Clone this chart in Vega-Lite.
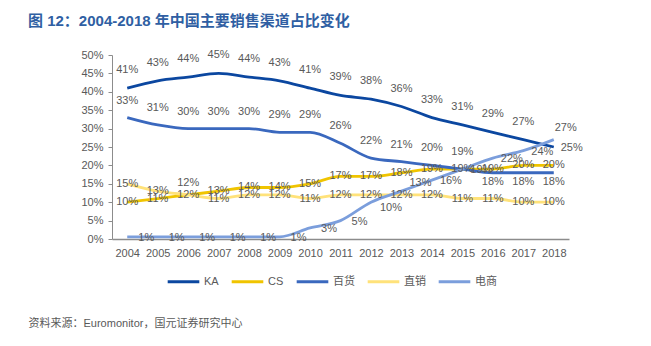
{
  "$schema": "https://vega.github.io/schema/vega-lite/v6.json",
  "autosize": "none",
  "width": 457,
  "height": 184,
  "padding": {"left": 112, "top": 55, "right": 82, "bottom": 107},
  "background": "white",
  "config": {
    "view": {"stroke": null},
    "font": "Liberation Sans, Noto Sans CJK SC",
    "text": {"font": "Liberation Sans, Noto Sans CJK SC"}
  },
  "title": {
    "text": "图 12：2004-2018 年中国主要销售渠道占比变化",
    "anchor": "start",
    "frame": "group",
    "dx": -84,
    "fontSize": 15,
    "fontWeight": "bold",
    "color": "#2F5FA3",
    "font": "Liberation Sans, Noto Sans CJK SC",
    "offset": 20
  },
  "data": {
    "values": [
      {"year": "2004", "series": "KA", "value": 0.41},
      {"year": "2005", "series": "KA", "value": 0.43},
      {"year": "2006", "series": "KA", "value": 0.44},
      {"year": "2007", "series": "KA", "value": 0.45},
      {"year": "2008", "series": "KA", "value": 0.44},
      {"year": "2009", "series": "KA", "value": 0.43},
      {"year": "2010", "series": "KA", "value": 0.41},
      {"year": "2011", "series": "KA", "value": 0.39},
      {"year": "2012", "series": "KA", "value": 0.38},
      {"year": "2013", "series": "KA", "value": 0.36},
      {"year": "2014", "series": "KA", "value": 0.33},
      {"year": "2015", "series": "KA", "value": 0.31},
      {"year": "2016", "series": "KA", "value": 0.29},
      {"year": "2017", "series": "KA", "value": 0.27},
      {"year": "2018", "series": "KA", "value": 0.25},
      {"year": "2004", "series": "CS", "value": 0.10},
      {"year": "2005", "series": "CS", "value": 0.11},
      {"year": "2006", "series": "CS", "value": 0.12},
      {"year": "2007", "series": "CS", "value": 0.13},
      {"year": "2008", "series": "CS", "value": 0.14},
      {"year": "2009", "series": "CS", "value": 0.14},
      {"year": "2010", "series": "CS", "value": 0.15},
      {"year": "2011", "series": "CS", "value": 0.17},
      {"year": "2012", "series": "CS", "value": 0.17},
      {"year": "2013", "series": "CS", "value": 0.18},
      {"year": "2014", "series": "CS", "value": 0.19},
      {"year": "2015", "series": "CS", "value": 0.19},
      {"year": "2016", "series": "CS", "value": 0.19},
      {"year": "2017", "series": "CS", "value": 0.20},
      {"year": "2018", "series": "CS", "value": 0.20},
      {"year": "2004", "series": "百货", "value": 0.33},
      {"year": "2005", "series": "百货", "value": 0.31},
      {"year": "2006", "series": "百货", "value": 0.30},
      {"year": "2007", "series": "百货", "value": 0.30},
      {"year": "2008", "series": "百货", "value": 0.30},
      {"year": "2009", "series": "百货", "value": 0.29},
      {"year": "2010", "series": "百货", "value": 0.29},
      {"year": "2011", "series": "百货", "value": 0.26},
      {"year": "2012", "series": "百货", "value": 0.22},
      {"year": "2013", "series": "百货", "value": 0.21},
      {"year": "2014", "series": "百货", "value": 0.20},
      {"year": "2015", "series": "百货", "value": 0.19},
      {"year": "2016", "series": "百货", "value": 0.18},
      {"year": "2017", "series": "百货", "value": 0.18},
      {"year": "2018", "series": "百货", "value": 0.18},
      {"year": "2004", "series": "直销", "value": 0.15},
      {"year": "2005", "series": "直销", "value": 0.13},
      {"year": "2006", "series": "直销", "value": 0.12},
      {"year": "2007", "series": "直销", "value": 0.11},
      {"year": "2008", "series": "直销", "value": 0.12},
      {"year": "2009", "series": "直销", "value": 0.12},
      {"year": "2010", "series": "直销", "value": 0.11},
      {"year": "2011", "series": "直销", "value": 0.12},
      {"year": "2012", "series": "直销", "value": 0.12},
      {"year": "2013", "series": "直销", "value": 0.12},
      {"year": "2014", "series": "直销", "value": 0.12},
      {"year": "2015", "series": "直销", "value": 0.11},
      {"year": "2016", "series": "直销", "value": 0.11},
      {"year": "2017", "series": "直销", "value": 0.10},
      {"year": "2018", "series": "直销", "value": 0.10},
      {"year": "2004", "series": "电商", "value": 0.006},
      {"year": "2005", "series": "电商", "value": 0.006},
      {"year": "2006", "series": "电商", "value": 0.006},
      {"year": "2007", "series": "电商", "value": 0.006},
      {"year": "2008", "series": "电商", "value": 0.006},
      {"year": "2009", "series": "电商", "value": 0.006},
      {"year": "2010", "series": "电商", "value": 0.03},
      {"year": "2011", "series": "电商", "value": 0.05},
      {"year": "2012", "series": "电商", "value": 0.10},
      {"year": "2013", "series": "电商", "value": 0.13},
      {"year": "2014", "series": "电商", "value": 0.16},
      {"year": "2015", "series": "电商", "value": 0.19},
      {"year": "2016", "series": "电商", "value": 0.22},
      {"year": "2017", "series": "电商", "value": 0.24},
      {"year": "2018", "series": "电商", "value": 0.27}
    ]
  },
  "encoding": {
    "x": {
      "field": "year",
      "type": "ordinal",
      "scale": {"type": "point", "padding": 0.5},
      "axis": {
        "title": "资料来源：Euromonitor，国元证券研究中心",
        "titleX": -84,
        "titleY": 84,
        "titleAnchor": "start",
        "titleAlign": "left",
        "titleBaseline": "middle",
        "titleFontWeight": "normal",
        "titleFontSize": 11,
        "titleColor": "#595959",
        "titleFont": "Liberation Sans, Noto Sans CJK SC",
        "labelAngle": 0,
        "labelColor": "#595959",
        "labelFontSize": 11,
        "labelPadding": 8,
        "ticks": false,
        "domainColor": "#8c8c8c",
        "domainWidth": 1.5
      }
    },
    "y": {
      "field": "value",
      "type": "quantitative",
      "scale": {"domain": [0, 0.5], "nice": false},
      "axis": {
        "title": null,
        "values": [0, 0.05, 0.1, 0.15, 0.2, 0.25, 0.3, 0.35, 0.4, 0.45, 0.5],
        "format": ".0%",
        "grid": false,
        "labelColor": "#595959",
        "labelFontSize": 11,
        "labelPadding": 5,
        "domainColor": "#8c8c8c",
        "tickColor": "#8c8c8c",
        "tickSize": 4
      }
    }
  },
  "layer": [
    {
      "mark": {"type": "line", "interpolate": "monotone", "strokeWidth": 2.8},
      "encoding": {
        "color": {
          "field": "series",
          "type": "nominal",
          "scale": {
            "domain": ["KA", "CS", "百货", "直销", "电商"],
            "range": ["#0B47A0", "#F0C400", "#3A68BE", "#FFE27A", "#7B9EDC"]
          },
          "legend": {
            "title": null,
            "orient": "none",
            "direction": "horizontal",
            "legendX": 54,
            "legendY": 209,
            "symbolType": "stroke",
            "symbolSize": 1000,
            "symbolStrokeWidth": 3,
            "labelFontSize": 11,
            "labelColor": "#595959",
            "labelOffset": 3,
            "columnPadding": 6
          }
        }
      }
    },
    {
      "transform": [{"filter": "datum.series == 'KA' && datum.year != '2018'"}],
      "mark": {"type": "text", "dy": -18, "fontSize": 11, "color": "#595959"},
      "encoding": {"text": {"field": "value", "format": ".0%"}}
    },
    {
      "transform": [{"filter": "datum.series == 'KA' && datum.year == '2018'"}],
      "mark": {"type": "text", "dx": 18, "dy": 1, "fontSize": 11, "color": "#595959"},
      "encoding": {"text": {"field": "value", "format": ".0%"}}
    },
    {
      "transform": [{"filter": "datum.series == '百货' && datum.year < '2016'"}],
      "mark": {"type": "text", "dy": -17, "fontSize": 11, "color": "#595959"},
      "encoding": {"text": {"field": "value", "format": ".0%"}}
    },
    {
      "transform": [{"filter": "datum.series == '百货' && datum.year >= '2016'"}],
      "mark": {"type": "text", "dy": 9, "fontSize": 11, "color": "#595959"},
      "encoding": {"text": {"field": "value", "format": ".0%"}}
    },
    {
      "transform": [{"filter": "datum.series == 'CS'"}],
      "mark": {"type": "text", "fontSize": 11, "color": "#595959"},
      "encoding": {"text": {"field": "value", "format": ".0%"}}
    },
    {
      "transform": [{"filter": "datum.series == '直销' && datum.year != '2006'"}],
      "mark": {"type": "text", "fontSize": 11, "color": "#595959"},
      "encoding": {"text": {"field": "value", "format": ".0%"}}
    },
    {
      "transform": [{"filter": "datum.series == '直销' && datum.year == '2006'"}],
      "mark": {"type": "text", "dy": -12, "fontSize": 11, "color": "#595959"},
      "encoding": {"text": {"field": "value", "format": ".0%"}}
    },
    {
      "transform": [{"filter": "datum.series == '电商' && datum.year != '2012' && datum.year != '2013' && datum.year != '2018'"}],
      "mark": {"type": "text", "dx": 19, "dy": 1, "fontSize": 11, "color": "#595959"},
      "encoding": {"text": {"field": "value", "format": ".0%"}}
    },
    {
      "transform": [{"filter": "datum.series == '电商' && datum.year == '2012'"}],
      "mark": {"type": "text", "dx": 20, "dy": 6, "fontSize": 11, "color": "#595959"},
      "encoding": {"text": {"field": "value", "format": ".0%"}}
    },
    {
      "transform": [{"filter": "datum.series == '电商' && datum.year == '2013'"}],
      "mark": {"type": "text", "dx": 19, "dy": -8, "fontSize": 11, "color": "#595959"},
      "encoding": {"text": {"field": "value", "format": ".0%"}}
    },
    {
      "transform": [{"filter": "datum.series == '电商' && datum.year == '2018'"}],
      "mark": {"type": "text", "dx": 12, "dy": -12, "fontSize": 11, "color": "#595959"},
      "encoding": {"text": {"field": "value", "format": ".0%"}}
    }
  ]
}
